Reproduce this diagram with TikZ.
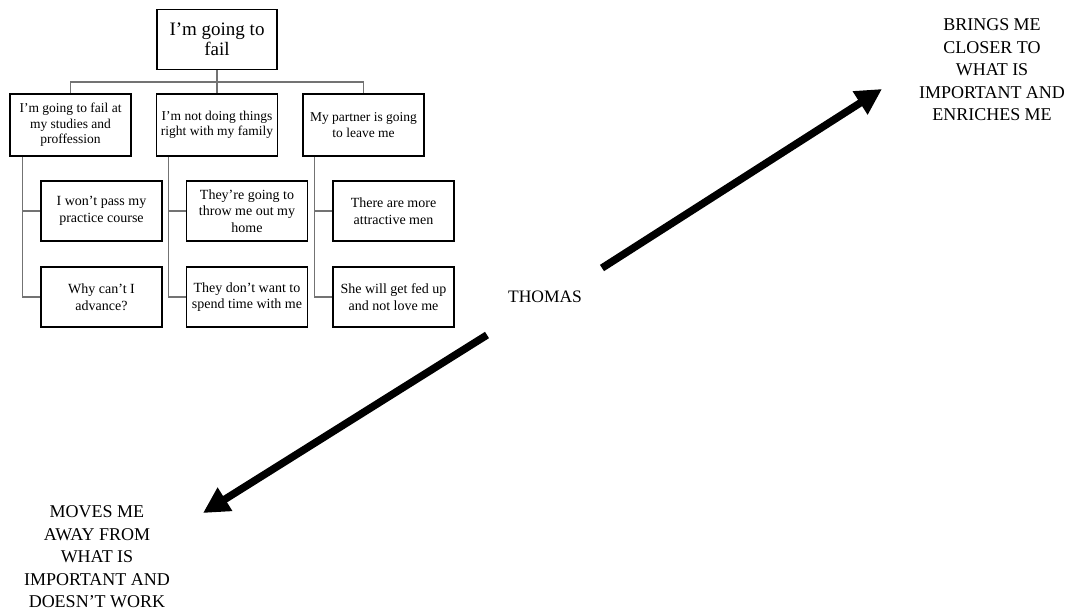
\documentclass[tikz,border=0pt]{standalone}
\usepackage{fontspec}
\setmainfont{Liberation Serif}
\usetikzlibrary{arrows.meta}
\begin{document}
\begin{tikzpicture}[x=1pt,y=-1pt,
  box/.style={draw=black,line width=1.6pt,inner sep=0pt,align=center,fill=white},
  topbox/.style={box,minimum width=120pt,minimum height=60pt,font=\fontsize{19}{20}\selectfont},
  midbox/.style={box,minimum width=121pt,minimum height=62pt,font=\fontsize{13.5}{15.5}\selectfont},
  leafbox/.style={box,minimum width=121pt,minimum height=60pt,font=\fontsize{14}{16.5}\selectfont},
  conn/.style={draw=black!55,line width=1.1pt},
  bigarrow/.style={line width=7.5pt,-{Triangle[length=26pt,width=26pt]}},
  label/.style={align=center,inner sep=0pt,font=\fontsize{18}{22.5}\selectfont}]
\useasboundingbox (0,0) rectangle (1070,611);

\node[topbox] (top) at (217,39.5) {I’m going to\\fail};

\node[midbox] (A) at (70.5,125) {I’m going to fail at\\my studies and\\proffession};
\node[midbox] (B) at (217,125) {I’m not doing things\\right with my family};
\node[midbox] (C) at (363.5,125) {My partner is going\\to leave me};

\node[leafbox] (A1) at (101.5,211) {I won’t pass my\\practice course};
\node[leafbox] (A2) at (101.5,297) {Why can’t I\\advance?};
\node[leafbox] (B1) at (247,211) {They’re going to\\throw me out my\\home};
\node[leafbox] (B2) at (247,297) {They don’t want to\\spend time with me};
\node[leafbox] (C1) at (393.5,211) {There are more\\attractive men};
\node[leafbox] (C2) at (393.5,297) {She will get fed up\\and not love me};

\coordinate (bus) at (217,82);
\draw[conn] (top.south) -- (bus);
\draw[conn] (A.north) |- (bus) -| (C.north);
\draw[conn] (B.north) -- (bus);

\draw[conn] ([xshift=13pt]A.south west) |- (A1.west);
\draw[conn] ([xshift=13pt]A.south west) |- (A2.west);
\draw[conn] ([xshift=13pt]B.south west) |- (B1.west);
\draw[conn] ([xshift=13pt]B.south west) |- (B2.west);
\draw[conn] ([xshift=12pt]C.south west) |- (C1.west);
\draw[conn] ([xshift=12pt]C.south west) |- (C2.west);

\node[label,font=\fontsize{17.5}{22}\selectfont] (thomas) at (545,297) {THOMAS};
\node[label] (good) at (992,70) {BRINGS ME\\CLOSER TO\\WHAT IS\\IMPORTANT AND\\ENRICHES ME};
\node[label] (bad) at (97,557) {MOVES ME\\AWAY FROM\\WHAT IS\\IMPORTANT AND\\DOESN’T WORK};

\coordinate (upS) at (602,268);
\coordinate (upE) at (882,89);
\coordinate (dnS) at (487,335);
\coordinate (dnE) at (203,513);
\draw[bigarrow] (upS) -- (upE);
\draw[bigarrow] (dnS) -- (dnE);
\end{tikzpicture}
\end{document}
